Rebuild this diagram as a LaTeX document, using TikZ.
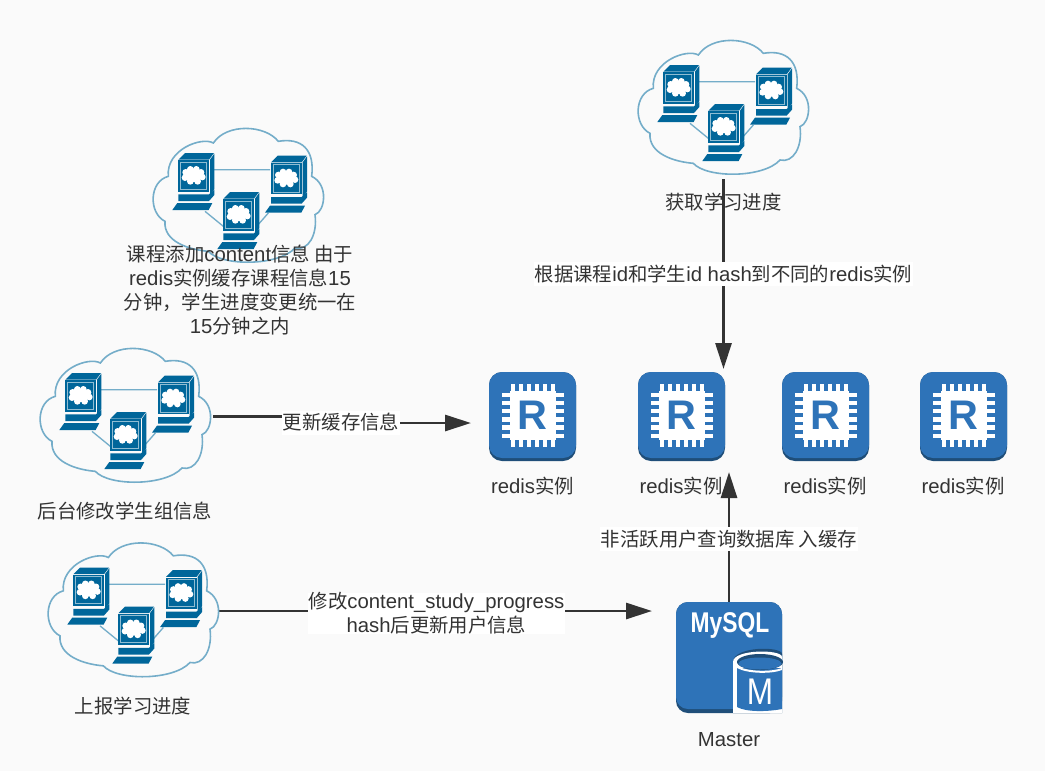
\documentclass[tikz,border=0pt]{standalone}
\usepackage{fontspec}
\setmainfont[Scale=1.07]{Liberation Sans}
\newfontfamily\cjk[Scale=1.02]{Noto Sans CJK SC}
\newcommand{\zh}[1]{{\cjk #1}}
\usetikzlibrary{arrows.meta,backgrounds,calc}
\definecolor{pagebg}{HTML}{FAFAFA}
\definecolor{ink}{HTML}{333333}
\definecolor{awsblue}{HTML}{2E73B8}
\definecolor{awsdark}{HTML}{1F4E79}
\definecolor{netdark}{HTML}{00669A}
\definecolor{netline}{HTML}{74ADC9}
\definecolor{netrim}{HTML}{8FBDD3}
\newcommand{\screenblob}{%
  \fill[white] (45,47) ellipse (28 and 20);
  \foreach \a/\b in {22/38,36/29,54/29,68/38,72/52,58/65,36/65,20/54}{\fill[white] (\a,\b) circle (10);}
}
\newcommand{\computerat}[2]{%
  \begin{scope}[shift={(#1,#2)}]
    \fill[netdark] (0,0) -- (20,-20) -- (107,-20) -- (92,0) -- cycle;
    \fill[netdark] (0,2) rectangle (92,96);
    \fill[netdark] (95,0) -- (108,-18) -- (108,88) -- (95,106) -- cycle;
    \draw[netrim,line width=.6pt] (7,7) rectangle (85,89);
    \screenblob
    \fill[netdark] (0,104) -- (92,104) -- (108,90) -- (108,106) -- (92,124) -- (0,124) -- cycle;
    \fill[netdark] (-3,130) -- (102,130) -- (91,151) -- (-18,151) -- cycle;
  \end{scope}%
}
\tikzset{
  flow/.style={draw=ink,line width=2.1pt,-{Triangle[length=19.5pt,width=12pt]}},
  hold/.style={inner sep=0pt,outer sep=0pt,minimum width=#1},
  txt/.style={text=ink,font=\fontsize{14.25}{18}\selectfont,align=center,inner sep=0pt},
  lab/.style={txt,fill=white,minimum height=18pt,inner xsep=.5pt},
  pics/netcloud/.style={code={
    \begin{scope}[x=.25pt,y=-.25pt]
      \draw[netline,line width=1.2pt,fill=pagebg]
        (205,75) .. controls (245,15) and (360,20) .. (400,70)
        .. controls (470,58) and (510,95) .. (500,175)
        .. controls (552,200) and (540,280) .. (510,290)
        .. controls (518,350) and (490,400) .. (450,390)
        .. controls (400,445) and (230,445) .. (190,400)
        .. controls (130,395) and (55,370) .. (60,310)
        .. controls (10,285) and (12,190) .. (70,175)
        .. controls (62,95) and (170,55) .. (205,75) -- cycle;
      \draw[netline,line width=1pt] (205,155) -- (375,155) (180,280) -- (235,325) (335,325) -- (370,285);
      \computerat{378}{133}
      \computerat{100}{125}
      \computerat{235}{242}
    \end{scope}
  }},
  pics/redisicon/.style={code={
    \fill[awsdark] (0,0) [rounded corners=13pt*.75] rectangle (87,89);
    \fill[awsblue] (0,0) [rounded corners=13pt*.75] rectangle (87,86);
    \fill[white] (20.5,19) rectangle (66.5,68);
    \foreach \i in {0,...,5}{
      \fill[white] ({21.5+\i*8},11.5) rectangle ({26+\i*8},75);
      \fill[white] (12.5,{20.5+\i*8.2}) rectangle (74.5,{25+\i*8.2});
    }
    \fill[white] (20.5,19) rectangle (66.5,68);
    \node[inner sep=0pt,text=awsblue,font=\fontsize{29}{29}\selectfont\bfseries] (-R) at (43.5,43.5) {R};
  }},
  pics/mysqlicon/.style={code={
    \fill[awsdark] (0,0) [rounded corners=9pt] rectangle (106,111);
    \fill[awsblue] (0,0) [rounded corners=9pt] rectangle (106,107);
    \fill[awsdark] (57,60) .. controls (57,44) and (106,44) .. (106,52) -- (106,111) -- (57,111) -- cycle;
    \fill[white] (57,60) .. controls (57,47) and (106,47) .. (106,55) -- (106,111) -- (57,111) -- cycle;
    \fill[awsblue] (61,66) -- (106,66) -- (106,107) .. controls (90,110) and (70,110) .. (61,105) -- cycle;
    \fill[awsdark] (84,60) ellipse (23 and 8);
    \fill[awsblue] (84,61.5) ellipse (21.5 and 6);
    \fill[white] (61,66) .. controls (72,72) and (96,72) .. (106,68) -- (106,66) .. controls (96,70) and (72,70) .. (61,64) -- cycle;
    \node[inner sep=0pt,text=white,xscale=.8,font=\fontsize{20}{20}\selectfont\bfseries] (-name) at (54,23) {MySQL};
    \node[inner sep=0pt,text=white,xscale=.85,font=\fontsize{26}{26}\selectfont] (-M) at (84,90) {M};
  }}
}
\begin{document}
\begin{tikzpicture}[x=0.75pt,y=-0.75pt]
\useasboundingbox (0,0) rectangle (1045,771);

% icon holders (their anchors carry the connectors)
\node[hold=128.25pt,minimum height=102.75pt] (cloudT) at (723.5,106.5) {};
\node[hold=128.25pt,minimum height=102.75pt] (cloudL) at (238.5,194.5) {};
\node[hold=128.25pt,minimum height=102.75pt] (cloudB) at (125.5,416.5) {};
\node[hold=128.25pt,minimum height=102.75pt] (cloudR) at (133.5,611) {};
\node[hold=65.25pt,minimum height=66.75pt] (r1) at (532.5,416.5) {};
\node[hold=65.25pt,minimum height=66.75pt] (r2) at (681.5,416.5) {};
\node[hold=65.25pt,minimum height=66.75pt] (r3) at (825.5,416.5) {};
\node[hold=65.25pt,minimum height=66.75pt] (r4) at (963.5,416.5) {};
\node[hold=79.5pt,minimum height=83.25pt] (mysql) at (729,657.5) {};

\pic (pT) at (630,30) {netcloud};
\pic (pL) at (145,118) {netcloud};
\pic (pB) at (32,338) {netcloud};
\pic (pR) at (40,532.5) {netcloud};
\pic (p1) at (489,372) {redisicon};
\pic (p2) at (638,372) {redisicon};
\pic (p3) at (782,372) {redisicon};
\pic (p4) at (920,372) {redisicon};
\pic (pM) at (676,602) {mysqlicon};

% labels
\node[txt] (capT) at (723.5,202) {\zh{获取学习进度}};
\node[txt] (capL) at (240,290.5) {\zh{课程添加}content\zh{信息 由于}\\redis\zh{实例缓存课程信息}15\\\zh{分钟，学生进度变更统一在}\\15\zh{分钟之内}};
\node[txt] (capB) at (125,511) {\zh{后台修改学生组信息}};
\node[txt] (capR) at (133,706) {\zh{上报学习进度}};
\node[txt] (t1) at (532.5,486) {redis\zh{实例}};
\node[txt] (t2) at (681,486) {redis\zh{实例}};
\node[txt] (t3) at (825,486) {redis\zh{实例}};
\node[txt] (t4) at (963,486) {redis\zh{实例}};
\node[txt] (tM) at (729,739.5) {Master};
\node[lab] (labA) at (723.5,274) {\zh{根据课程}id\zh{和学生}id hash\zh{到不同的}redis\zh{实例}};
\node[lab] (labB) at (341,422.5) {\zh{更新缓存信息}};
\node[lab] (labC) at (729,539) {\zh{非活跃用户查询数据库 入缓存}};
\node[lab] (labD) at (436.5,613.5) {\zh{修改}content\_study\_progress\\hash\zh{后更新用户信息}};
\coordinate (r1in) at (489,423);

\begin{scope}[on background layer]
  \fill[pagebg] (0,0) rectangle (1045,771);
  \draw[flow,shorten <=3pt,shorten >=2.25pt] (cloudT.south) -- (cloudT.south |- r2.north);
  \draw[flow,shorten <=1.5pt,shorten >=13.5pt] (cloudB.east) -| (labB.center) |- (r1in);
  \draw[flow,shorten >=18pt] (cloudR.east) -- (cloudR.east -| mysql.west);
  \draw[flow,shorten >=8.25pt] (mysql.north) -- (mysql.north |- r2.south);
\end{scope}
\end{tikzpicture}
\end{document}
